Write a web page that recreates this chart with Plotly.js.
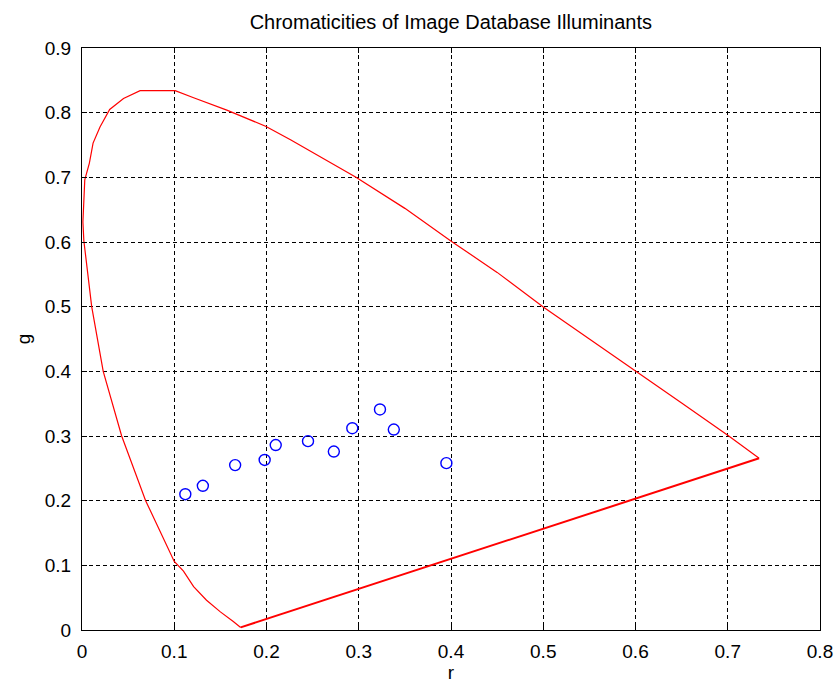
<!DOCTYPE html>
<html>
<head>
<meta charset="utf-8">
<script src="https://cdn.plot.ly/plotly-3.0.1.min.js"></script>
<style>html,body{margin:0;padding:0;background:#fff;}#chart{width:838px;height:688px;}</style>
</head>
<body>
<div id="chart"></div>
<script>
// Spectral locus (r, g), from the red tip round to the blue end
const locusR = [0.734, 0.700, 0.650, 0.600, 0.550, 0.500, 0.450, 0.401, 0.350, 0.297, 0.258, 0.226, 0.199, 0.157, 0.121, 0.101, 0.063, 0.045, 0.030, 0.0195, 0.012, 0.008, 0.003, 0.001, 0.002, 0.0105, 0.023, 0.043, 0.069, 0.100, 0.110, 0.121, 0.135, 0.150, 0.164, 0.172];
const locusG = [0.2655, 0.301, 0.351, 0.400, 0.450, 0.4995, 0.553, 0.6005, 0.652, 0.700, 0.732, 0.758, 0.779, 0.804, 0.823, 0.834, 0.834, 0.822, 0.805, 0.778, 0.753, 0.722, 0.696, 0.631, 0.602, 0.500, 0.400, 0.300, 0.200, 0.106, 0.091, 0.067, 0.046, 0.028, 0.013, 0.004];
// Line of purples
const purpleR = [0.172, 0.734];
const purpleG = [0.004, 0.2655];
// Illuminant chromaticities
const illumR = [0.112, 0.131, 0.166, 0.198, 0.210, 0.245, 0.273, 0.293, 0.323, 0.338, 0.395];
const illumG = [0.210, 0.223, 0.255, 0.263, 0.286, 0.292, 0.276, 0.312, 0.341, 0.310, 0.258];
const xTicks = [0, 0.1, 0.2, 0.3, 0.4, 0.5, 0.6, 0.7, 0.8];
const yTicks = [0, 0.1, 0.2, 0.3, 0.4, 0.5, 0.6, 0.7, 0.8, 0.9];
const xTickText = ['0', '0.1', '0.2', '0.3', '0.4', '0.5', '0.6', '0.7', '0.8'];
const yTickText = ['0', '0.1', '0.2', '0.3', '0.4', '0.5', '0.6', '0.7', '0.8', '0.9'];

const fam = 'Liberation Sans, Arial, sans-serif';
const tickFont = {family: fam, size: 19, color: '#000'};
const labelFont = {family: fam, size: 19, color: '#000'};

const traces = [
  {x: locusR, y: locusG, mode: 'lines', line: {color: '#ff0000', width: 1.2}, hoverinfo: 'skip'},
  {x: purpleR, y: purpleG, mode: 'lines', line: {color: '#ff0000', width: 2}, hoverinfo: 'skip'},
  {x: illumR, y: illumG, mode: 'markers', marker: {symbol: 'circle-open', size: 11, color: '#0000ff', line: {width: 1.4, color: '#0000ff'}}}
];

const axisCommon = {
  showline: true, linecolor: '#000', linewidth: 1, mirror: 'ticks',
  ticks: 'inside', ticklen: 5, tickcolor: '#000', tickwidth: 1,
  showgrid: true, gridcolor: '#000', gridwidth: 1, griddash: '4px,3px',
  zeroline: false, tickfont: tickFont, automargin: false, tickmode: 'array'
};

const layout = {
  width: 838, height: 688,
  margin: {l: 82, r: 18, t: 48, b: 58},
  paper_bgcolor: '#fff', plot_bgcolor: '#fff',
  showlegend: false,
  font: tickFont,
  title: {text: 'Chromaticities of Image Database Illuminants', font: {family: fam, size: 20, color: '#000'}, x: 0.538, xanchor: 'center', y: 0.968, yanchor: 'middle'},
  xaxis: Object.assign({}, axisCommon, {range: [0, 0.8], tickvals: xTicks, ticktext: xTickText, ticklabelstandoff: 4, title: {text: 'r', font: labelFont, standoff: 0}}),
  yaxis: Object.assign({}, axisCommon, {range: [0, 0.9], tickvals: yTicks, ticktext: yTickText, ticklabelstandoff: 6, title: {text: 'g', font: labelFont, standoff: 9}})
};

Plotly.newPlot('chart', traces, layout, {displayModeBar: false, staticPlot: true});
</script>
</body>
</html>
